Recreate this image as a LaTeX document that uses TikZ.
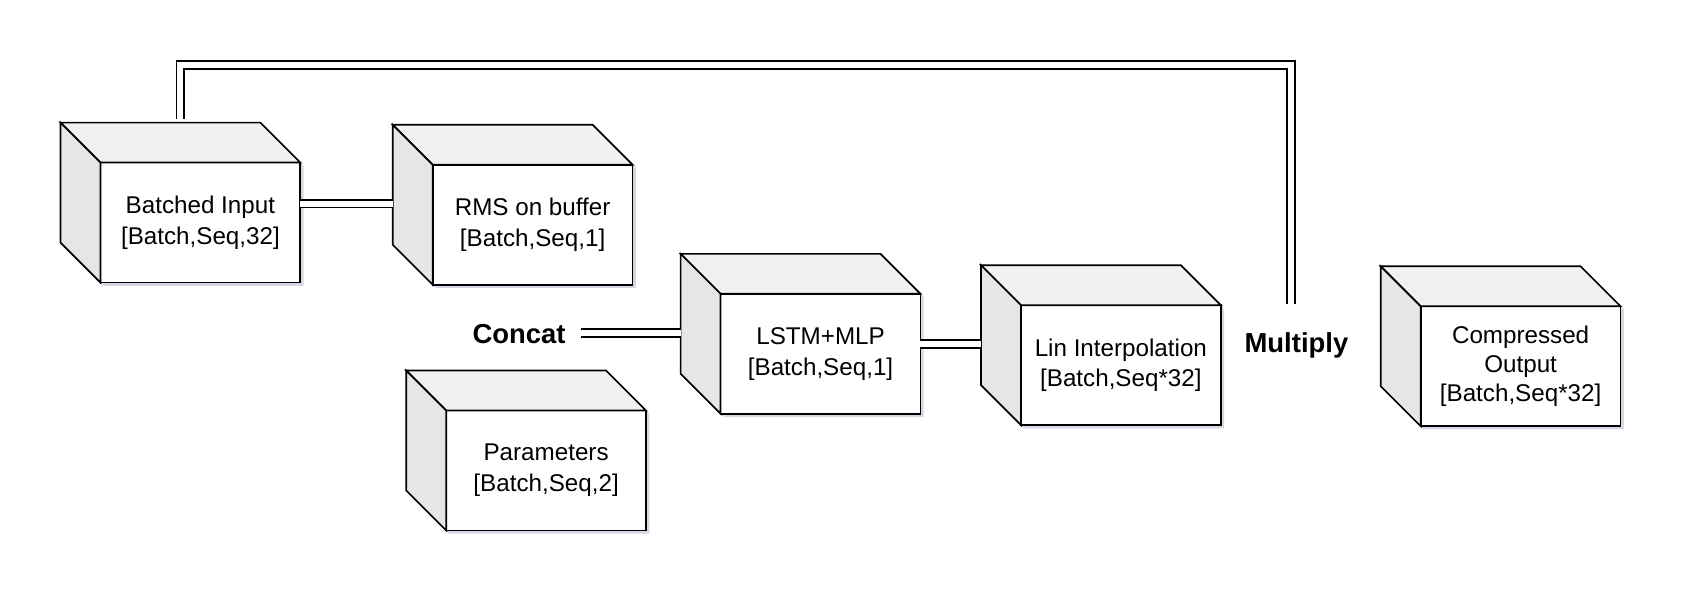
\documentclass[tikz,border=0pt]{standalone}
\usepackage{fontspec}
\setmainfont{Liberation Sans}
\usepackage{tikz}
\usetikzlibrary{backgrounds,shadows}
\definecolor{topface}{RGB}{241,241,241}
\definecolor{sideface}{RGB}{230,230,230}
\definecolor{shade}{RGB}{214,214,228}
\tikzstyle{box}=[draw, fill=white, line width=1.6pt, minimum width=185pt, minimum height=111pt, outer sep=0pt, align=center, font=\fontsize{22.4}{28.5}\selectfont]
\tikzstyle{face}=[draw, line width=1.6pt]
\tikzstyle{tag}=[font=\fontsize{25.4}{30}\selectfont\bfseries]
\tikzstyle{link}=[double, double distance=5.6pt, line width=1.6pt]

\begin{document}
\begin{tikzpicture}[x=1pt, y=-1pt]
    \useasboundingbox (0,0) rectangle (1568,559);
% Blocks
    \node[box] (inp) at (185.5,206) {Batched Input\\{}[Batch,Seq,32]};
    \node[box] (rms) at (493,208) {RMS on buffer\\{}[Batch,Seq,1]};
    \node[box] (lstm) at (759.5,327.5) {LSTM+MLP\\{}[Batch,Seq,1]};
    \node[box] (lin) at (1037.5,338) {Lin Interpolation\\{}[Batch,Seq*32]};
    \node[box, font=\fontsize{22.4}{26.5}\selectfont] (out) at (1407.5,339) {Compressed\\Output\\{}[Batch,Seq*32]};
    \node[box] (par) at (505.5,435.5) {Parameters\\{}[Batch,Seq,2]};
% Top and side faces
    \foreach \n in {inp,rms,lstm,lin,out,par} {
        \begin{scope}[on background layer]
            \path[drop shadow={shadow xshift=3pt, shadow yshift=-3pt, fill=shade, opacity=1}] (\n.south west) -- (\n.south east) -- (\n.north east) -- ++(-37,-37) -- ++(-185,0) -- ++(0,111) -- cycle;
        \end{scope}
        \draw[face, fill=topface] (\n.north west) -- ++(-37,-37) -- ++(185,0) -- (\n.north east) -- cycle;
        \draw[face, fill=sideface] (\n.north west) -- ++(-37,-37) -- ++(0,111) -- (\n.south west) -- cycle;
        \coordinate (\n-in) at ([xshift=-37pt,yshift=19.5pt]\n.west);
    }
% Operations
    \node[tag, inner xsep=14pt] (concat) at (480.5,309) {Concat};
    \node[tag] (mul) at (1200,320) {Multiply};
    \coordinate (loop) at (1195,60);
    \coordinate (drop) at ([yshift=23pt]mul.north);
% Links
    \draw[link] (inp.east |- rms-in) -- (rms-in);
    \draw[link] (concat.east |- lstm-in) -- (lstm-in);
    \draw[link] (lstm.east |- lin-in) -- (lin-in);
    \draw[link] ([xshift=-18.5pt,yshift=40pt]inp.north) |- (loop) -- (loop |- drop);
\end{tikzpicture}
\end{document}
